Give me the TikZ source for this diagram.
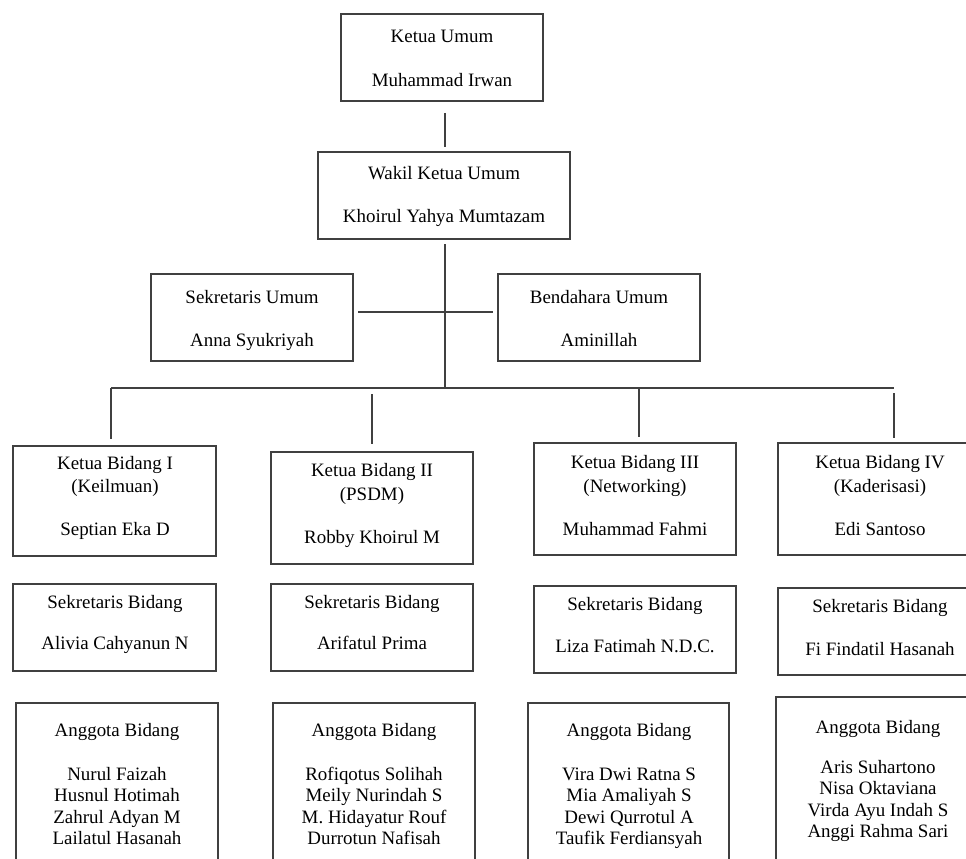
\documentclass[tikz,border=0pt]{standalone}
\usepackage{fontspec}
\setmainfont{Liberation Serif}
\usetikzlibrary{calc}
\definecolor{linec}{RGB}{64,64,64}
\newcommand\orgbox[5]{\node[orgrect,minimum width=#4*0.75pt,minimum height=#5*0.75pt] (#1) at (#2,#3) {};}
\newcommand\orgtxt[4]{\node[orgtext] (#1) at (#2,#3) {#4};}
\begin{document}
\begin{tikzpicture}[x=0.75pt,y=-0.75pt,
  orgrect/.style={draw=linec,line width=0.9pt,inner sep=0pt,outer sep=0pt,rectangle},
  orgtext/.style={anchor=base,inner sep=0pt,font=\fontsize{14.2}{16}\selectfont,text=black},
  conn/.style={draw=linec,line width=0.9pt}]
\useasboundingbox (0,0) rectangle (966,859);
\clip (0,0) rectangle (966,859);
% boxes
\orgbox{ku}{442}{57.5}{202}{87}
\orgbox{wk}{444}{195.5}{252}{87}
\orgbox{su}{252}{317.5}{202}{87}
\orgbox{bu}{599}{317.5}{202}{87}
\orgbox{kb1}{114.5}{501}{203}{110}
\orgbox{kb2}{372}{508}{202}{112}
\orgbox{kb3}{635}{499}{202}{112}
\orgbox{kb4}{880}{499}{204}{112}
\orgbox{sb1}{114.5}{627.5}{203}{87}
\orgbox{sb2}{372}{627.5}{202}{87}
\orgbox{sb3}{635}{629.5}{202}{87}
\orgbox{sb4}{880}{631.5}{204}{87}
\orgbox{ab1}{117}{791.5}{202}{177}
\orgbox{ab2}{374}{791.5}{202}{177}
\orgbox{ab3}{628.5}{791.5}{201}{177}
\orgbox{ab4}{878}{788.5}{204}{183}
% texts
\orgtxt{kut1}{442}{43}{Ketua Umum}
\orgtxt{kut2}{442}{87}{Muhammad Irwan}
\orgtxt{wkt1}{444}{180}{Wakil Ketua Umum}
\orgtxt{wkt2}{444}{223}{Khoirul Yahya Mumtazam}
\orgtxt{sut1}{252}{303}{Sekretaris Umum}
\orgtxt{sut2}{252}{346}{Anna Syukriyah}
\orgtxt{but1}{599}{303}{Bendahara Umum}
\orgtxt{but2}{599}{346}{Aminillah}
\orgtxt{kb1t1}{115}{469}{Ketua Bidang I}
\orgtxt{kb1t2}{115}{492}{(Keilmuan)}
\orgtxt{kb1t3}{115}{535}{Septian Eka D}
\orgtxt{kb2t1}{372}{476}{Ketua Bidang II}
\orgtxt{kb2t2}{372}{500}{(PSDM)}
\orgtxt{kb2t3}{372}{543}{Robby Khoirul M}
\orgtxt{kb3t1}{635}{468}{Ketua Bidang III}
\orgtxt{kb3t2}{635}{492}{(Networking)}
\orgtxt{kb3t3}{635}{535}{Muhammad Fahmi}
\orgtxt{kb4t1}{880}{468}{Ketua Bidang IV}
\orgtxt{kb4t2}{880}{492}{(Kaderisasi)}
\orgtxt{kb4t3}{880}{535}{Edi Santoso}
\orgtxt{sb1t1}{115}{608}{Sekretaris Bidang}
\orgtxt{sb1t2}{115}{649}{Alivia Cahyanun N}
\orgtxt{sb2t1}{372}{608}{Sekretaris Bidang}
\orgtxt{sb2t2}{372}{649}{Arifatul Prima}
\orgtxt{sb3t1}{635}{610}{Sekretaris Bidang}
\orgtxt{sb3t2}{635}{652}{Liza Fatimah N.D.C.}
\orgtxt{sb4t1}{880}{612}{Sekretaris Bidang}
\orgtxt{sb4t2}{880}{655}{Fi Findatil Hasanah}
\orgtxt{ab1t0}{117}{736}{Anggota Bidang}
\orgtxt{ab1t1}{117}{780}{Nurul Faizah}
\orgtxt{ab1t2}{117}{801.5}{Husnul Hotimah}
\orgtxt{ab1t3}{117}{823}{Zahrul Adyan M}
\orgtxt{ab1t4}{117}{844.5}{Lailatul Hasanah}
\orgtxt{ab2t0}{374}{736}{Anggota Bidang}
\orgtxt{ab2t1}{374}{780}{Rofiqotus Solihah}
\orgtxt{ab2t2}{374}{801.5}{Meily Nurindah S}
\orgtxt{ab2t3}{374}{823}{M. Hidayatur Rouf}
\orgtxt{ab2t4}{374}{844.5}{Durrotun Nafisah}
\orgtxt{ab3t0}{629}{736}{Anggota Bidang}
\orgtxt{ab3t1}{629}{780}{Vira Dwi Ratna S}
\orgtxt{ab3t2}{629}{801.5}{Mia Amaliyah S}
\orgtxt{ab3t3}{629}{823}{Dewi Qurrotul A}
\orgtxt{ab3t4}{629}{844.5}{Taufik Ferdiansyah}
\orgtxt{ab4t0}{878}{733}{Anggota Bidang}
\orgtxt{ab4t1}{878}{773}{Aris Suhartono}
\orgtxt{ab4t2}{878}{794.5}{Nisa Oktaviana}
\orgtxt{ab4t3}{878}{816}{Virda Ayu Indah S}
\orgtxt{ab4t4}{878}{837.5}{Anggi Rahma Sari}
% connectors
\coordinate (busL) at (111,388);
\coordinate (busR) at (894,388);
\coordinate (busC) at (445,388);
\coordinate (bus3) at (639,387);
\draw[conn] ($(ku.south)+(3,12)$) -- ($(wk.north)+(1,-5)$);
\draw[conn] ($(wk.south)+(1,5)$) -- (busC);
\draw[conn] ($(su.east)+(5,-5.5)$) -- ($(bu.west)+(-5,-5.5)$);
\draw[conn] (busL) -- (busR);
\draw[conn] (busL) -- ($(kb1.north)+(-3.5,-7)$);
\draw[conn] ($(kb2.north)+(0,-58)$) -- ($(kb2.north)+(0,-8)$);
\draw[conn] (bus3) -- ($(kb3.north)+(4,-6)$);
\draw[conn] ($(kb4.north)+(14,-50)$) -- ($(kb4.north)+(14,-5)$);
\end{tikzpicture}
\end{document}
